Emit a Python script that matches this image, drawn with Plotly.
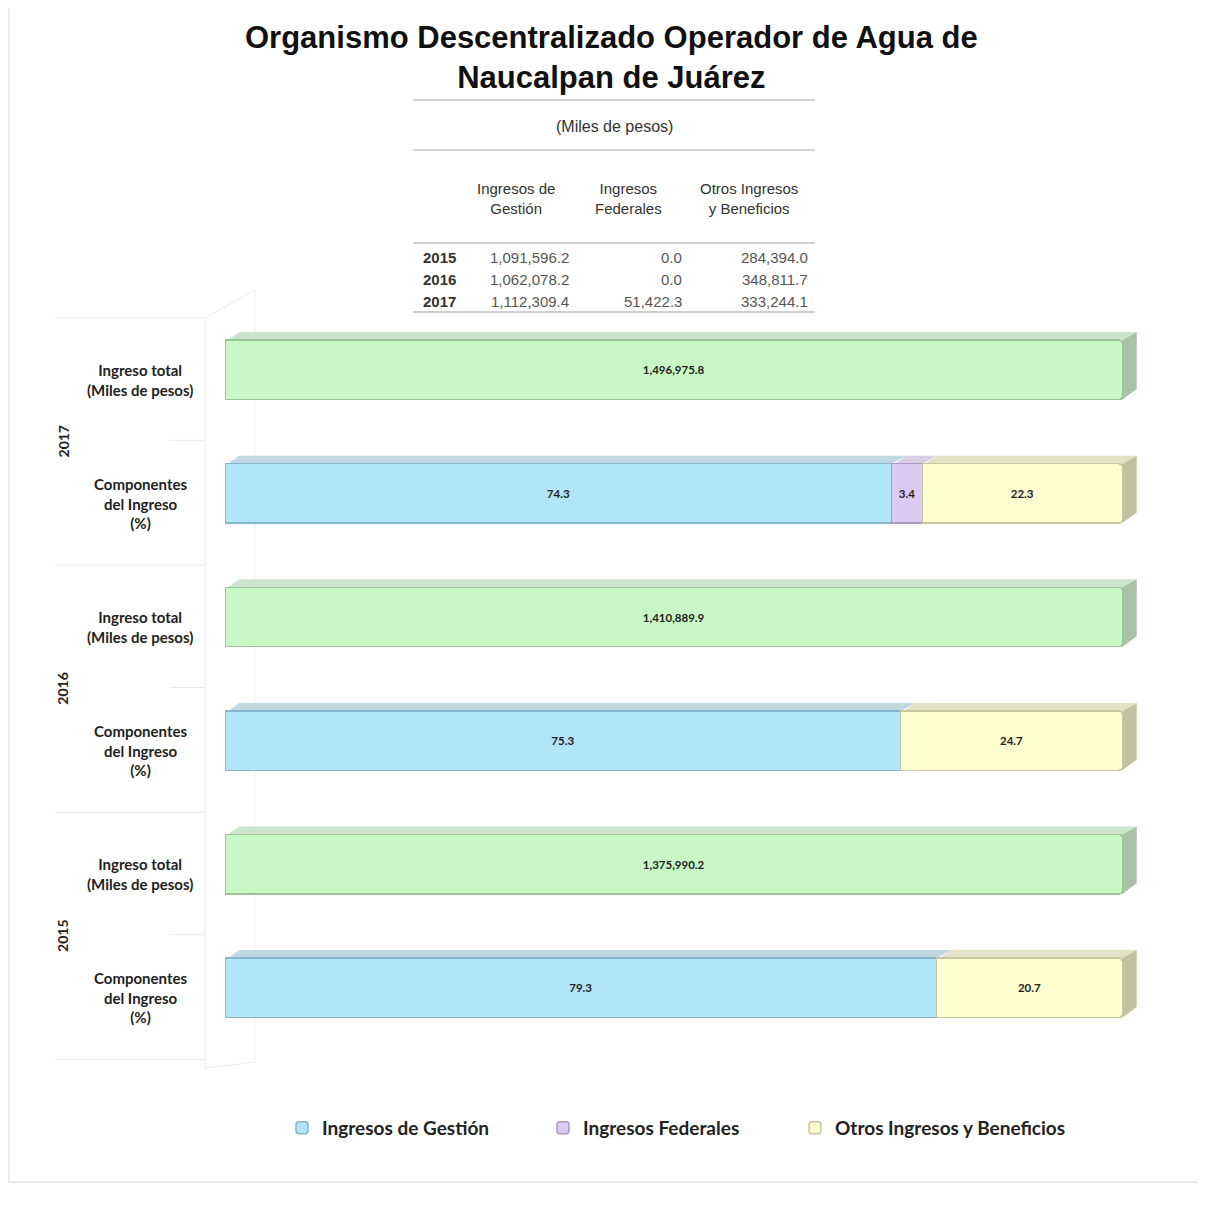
import plotly.graph_objects as go

# ---- data (miles de pesos) ----
years = ["2015", "2016", "2017"]
ingresos_gestion = [1091596.2, 1062078.2, 1112309.4]
ingresos_federales = [0.0, 0.0, 51422.3]
otros_ingresos = [284394.0, 348811.7, 333244.1]

# bar rows, top to bottom
row_years = ["2017", "2017", "2016", "2016", "2015", "2015"]
row_kind = ["total", "comp", "total", "comp", "total", "comp"]
ingreso_total = [1496975.8, None, 1410889.9, None, 1375990.2, None]
pct_gestion = [None, 74.3, None, 75.3, None, 79.3]
pct_federales = [None, 3.4, None, None, None, None]
pct_otros = [None, 22.3, None, 24.7, None, 20.7]

row_labels = {
    "total": "Ingreso total<br>(Miles de pesos)",
    "comp": "Componentes<br>del Ingreso<br>(%)",
}

# page has an 8px body margin, so the figure starts at (8, 8) on screen
OFF = 8
W, H = 1190, 1191
ML, MR, MT, MB = 217, 55, 300, 139
PW, PH = W - ML - MR, H - MT - MB


def px_x(p):
    return (p - OFF - ML) / PW


def px_y(p):
    return (H - MB - (p - OFF)) / PH


cats = [f"{y}-{k}" for y, k in zip(row_years, row_kind)]

fig = go.Figure()

# -----------------------
# bars (normalised to 100 %)
# -----------------------
series = [
    ("Ingreso total", ingreso_total, "#c8f8c6", "#98c496", False, "legend"),
    ("Ingresos de Gestión", pct_gestion, "#b2e4fa", "#86b6cc", True, "legend"),
    ("Ingresos Federales", pct_federales, "#dccaf2", "#ab98c4", True, "legend2"),
    ("Otros Ingresos y Beneficios", pct_otros, "#fdfdd0", "#c8c89e", True, "legend3"),
]
for name, vals, fill, edge, show, leg in series:
    txt = []
    for v in vals:
        if v is None:
            txt.append("")
        elif name == "Ingreso total":
            txt.append(f"{v:,.1f}")
        else:
            txt.append(f"{v:.1f}")
    fig.add_trace(
        go.Bar(
            y=cats,
            x=vals,
            orientation="h",
            name=name,
            showlegend=show,
            legend=leg,
            text=txt,
            textposition="inside",
            insidetextanchor="middle",
            textfont=dict(family="Lato", size=11.5, color="#222222", weight="bold"),
            marker=dict(color=fill, line=dict(color=edge, width=1.5), cornerradius=3),
            hoverinfo="skip",
        )
    )

# -----------------------
# 3D faces (top + right side) from the stacked segments
# -----------------------
face_top = {"Ingreso total": "#cde3cb", "Ingresos de Gestión": "#c1d7e2",
            "Ingresos Federales": "#d8cee6", "Otros Ingresos y Beneficios": "#e2e2c7"}
face_side = {"Ingreso total": "#a9c2a7", "Otros Ingresos y Beneficios": "#c2c2a2"}
dx, dy, hw = 1.6, 0.065, 0.24
shapes = []
for i in range(len(cats)):
    segs = []
    if ingreso_total[i] is not None:
        segs.append(("Ingreso total", 0, ingreso_total[i] / ingreso_total[i] * 100))
    else:
        start = 0
        for name, vals in [("Ingresos de Gestión", pct_gestion),
                           ("Ingresos Federales", pct_federales),
                           ("Otros Ingresos y Beneficios", pct_otros)]:
            if vals[i]:
                segs.append((name, start, start + vals[i]))
                start += vals[i]
    for name, x0, x1 in segs:
        yt = i - hw
        shapes.append(dict(
            type="path", xref="x", yref="y", layer="below",
            path=f"M{x0 + 0.3},{yt} L{x0 + dx},{yt - dy} L{x1 + dx},{yt - dy} L{x1},{yt} Z",
            fillcolor=face_top[name], line=dict(width=0),
        ))
    name, x0, x1 = segs[-1]
    yt, yb = i - hw, i + hw
    shapes.append(dict(
        type="path", xref="x", yref="y", layer="below",
        path=f"M{x1},{yt} L{x1 + dx},{yt - dy} L{x1 + dx},{yb - dy - 0.02} L{x1},{yb} Z",
        fillcolor=face_side[name], line=dict(width=0),
    ))

# faint back wall / divider lines
wall = "#ececec"


def wline(x0, y0, x1, y1, col=wall, yref="paper"):
    shapes.append(dict(type="line", xref="paper", yref=yref, layer="below",
                       x0=x0, x1=x1, y0=y0, y1=y1, line=dict(color=col, width=1)))


wline(px_x(205), px_y(318), px_x(205), px_y(1068))
wline(px_x(255), px_y(290), px_x(255), px_y(1062), col="#f1f1f1")
wline(px_x(205), px_y(318), px_x(255), px_y(290))
wline(px_x(205), px_y(1068), px_x(255), px_y(1062))
for k in range(4):
    wline(px_x(55), -0.42 + 2 * k, px_x(205), -0.42 + 2 * k, yref="y")
for k in range(3):
    wline(px_x(170), 0.57 + 2 * k, px_x(205), 0.57 + 2 * k, yref="y")

# outer frame
shapes.append(dict(type="rect", xref="paper", yref="paper", x0=px_x(9), x1=px_x(1210),
                   y0=px_y(1182), y1=px_y(6), line=dict(color="#e6e6e6", width=1.5),
                   layer="below"))

# table rules
for yy, col in [(100, "#cfcfcf"), (150, "#d6d6d6"), (243, "#cfcfcf"), (312, "#cfcfcf")]:
    shapes.append(dict(type="line", xref="paper", yref="paper", x0=px_x(413), x1=px_x(815),
                       y0=px_y(yy), y1=px_y(yy), line=dict(color=col, width=2)))

annotations = []

# title
annotations.append(dict(
    x=px_x(611), y=px_y(57), xref="paper", yref="paper", xanchor="center", yanchor="middle",
    text="<b>Organismo Descentralizado Operador de Agua de<br>Naucalpan de Juárez</b>",
    showarrow=False, align="center",
    font=dict(family="Liberation Sans", size=31, color="#111111"),
))

# row labels and year labels
for i, k in enumerate(row_kind):
    annotations.append(dict(
        x=px_x(140), y=i + 0.08, xref="paper", yref="y", text=row_labels[k], showarrow=False,
        xanchor="center", yanchor="middle", align="center",
        font=dict(family="Lato", size=15, color="#222222", weight="bold"),
    ))
for j, yr in enumerate(["2017", "2016", "2015"]):
    annotations.append(dict(
        x=px_x(63), y=2 * j + 0.58, xref="paper", yref="y", text=yr, showarrow=False,
        xanchor="center", yanchor="middle", textangle=-90,
        font=dict(family="Lato", size=14, color="#222222", weight="bold"),
    ))

# table text
annotations.append(dict(x=px_x(614), y=px_y(126), xref="paper", yref="paper",
                        xanchor="center", yanchor="middle",
                        text="(Miles de pesos)", showarrow=False,
                        font=dict(family="Liberation Sans", size=16, color="#333333")))
headers = [(516, "Ingresos de<br>Gestión"), (628, "Ingresos<br>Federales"),
           (749, "Otros Ingresos<br>y Beneficios")]
for xx, t in headers:
    annotations.append(dict(x=px_x(xx), y=px_y(198), xref="paper", yref="paper", text=t,
                            xanchor="center", yanchor="middle",
                            showarrow=False, align="center",
                            font=dict(family="Liberation Sans", size=15, color="#333333")))
row_y = {"2015": 257, "2016": 279, "2017": 302}
vfont = dict(family="Liberation Sans", size=15, color="#555555")
for n, yr in enumerate(years):
    yy = px_y(row_y[yr])
    annotations.append(dict(x=px_x(439), y=yy, xref="paper", yref="paper", text=f"<b>{yr}</b>",
                            xanchor="center", yanchor="middle", showarrow=False,
                            font=dict(family="Liberation Sans", size=15, color="#333333")))
    for xr, v in [(571, ingresos_gestion[n]), (684, ingresos_federales[n]), (810, otros_ingresos[n])]:
        annotations.append(dict(x=px_x(xr), y=yy, xref="paper", yref="paper", text=f"{v:,.1f}",
                                xanchor="right", yanchor="middle", showarrow=False, font=vfont))

legend_font = dict(family="Lato", size=19, color="#222222", weight="bold")


def leg(px):
    return dict(orientation="h", xref="container", yref="container",
                x=(px - OFF) / W, xanchor="left", y=1 - (1128 - OFF) / H, yanchor="middle",
                bgcolor="rgba(0,0,0,0)", font=legend_font)


fig.update_layout(
    width=W,
    height=H,
    margin=dict(l=ML, r=MR, t=MT, b=MB),
    paper_bgcolor="white",
    plot_bgcolor="white",
    barmode="stack",
    barnorm="percent",
    bargap=0.52,
    uniformtext=dict(minsize=10, mode="show"),
    xaxis=dict(range=[0, 102.3], visible=False, fixedrange=True),
    yaxis=dict(categoryorder="array", categoryarray=cats, autorange="reversed",
               showticklabels=False, showgrid=False, zeroline=False, showline=False),
    legend=leg(282),
    legend2=leg(543),
    legend3=leg(795),
    shapes=shapes,
    annotations=annotations,
)

fig.write_html("out.html")
